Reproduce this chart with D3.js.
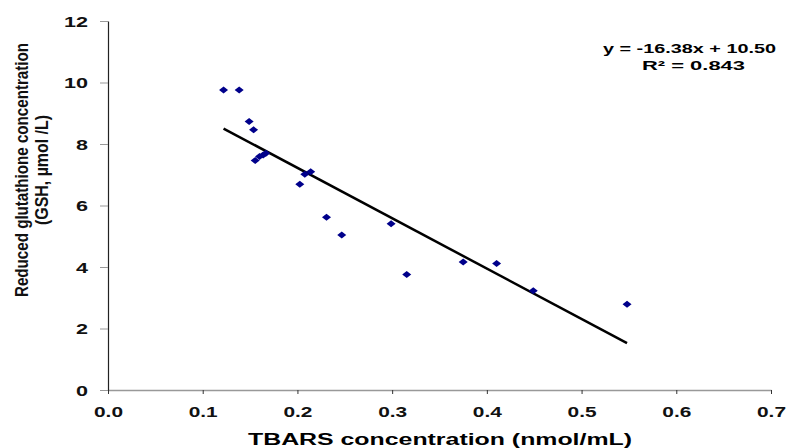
<!DOCTYPE html>
<html><head><meta charset="utf-8">
<script src="https://cdn.jsdelivr.net/npm/d3@7"></script>
<style>
body{margin:0;background:#fff;}
text{font-family:"Liberation Sans",Arial,sans-serif;}
</style></head>
<body><svg id="c" width="789" height="448"></svg>
<script>
const tbars = [0.122,0.1385,0.149,0.1537,0.1554,0.160,0.1638,0.1667,0.2025,0.2078,0.214,0.2307,0.2468,0.2989,0.3154,0.375,0.4103,0.449,0.548];
const gsh   = [9.76,9.76,8.73,8.46,7.46,7.59,7.64,7.70,6.69,7.02,7.10,5.62,5.04,5.41,3.76,4.16,4.11,3.23,2.79];
const xTicks = [0,0.1,0.2,0.3,0.4,0.5,0.6,0.7];
const yTicks = [0,2,4,6,8,10,12];
const slope = -16.38, intercept = 10.50;
const eqText = "y = -16.38x + 10.50";
const r2Text = "R\u00b2 = 0.843";

const svg = d3.select("#c");
const x = d3.scaleLinear().domain([0,0.7]).range([108,771]);
const y = d3.scaleLinear().domain([0,12]).range([390,21]);

// x axis
const xa = svg.append("g").attr("transform","translate(0,390)")
  .call(d3.axisBottom(x).tickValues(xTicks).tickFormat(d3.format(".1f")).tickSize(4).tickSizeOuter(0));
xa.select(".domain").attr("stroke","#999").attr("stroke-width",1.5);
xa.selectAll(".tick line").attr("stroke","#333");
xa.selectAll(".tick text").attr("y",27).attr("dy",null).attr("font-size",14).attr("font-weight","bold").attr("fill","#111")
  .attr("textLength",29).attr("lengthAdjust","spacingAndGlyphs");

// y axis
const ya = svg.append("g").attr("transform","translate(108,0)")
  .call(d3.axisLeft(y).tickValues(yTicks).tickSize(8).tickSizeOuter(0));
ya.select(".domain").attr("stroke","#222").attr("stroke-width",1.2);
ya.selectAll(".tick line").attr("stroke","#999");
ya.selectAll(".tick text").attr("x",-20).attr("dy","0.36em").attr("font-size",14).attr("font-weight","bold").attr("fill","#111")
  .attr("textLength",d=>String(d).length*12).attr("lengthAdjust","spacingAndGlyphs");

// regression line
const xmin = d3.min(tbars), xmax = d3.max(tbars);
svg.append("line")
  .attr("x1",x(xmin)).attr("y1",y(slope*xmin+intercept))
  .attr("x2",x(xmax)).attr("y2",y(slope*xmax+intercept))
  .attr("stroke","#000").attr("stroke-width",2.5);

// points
svg.append("g").selectAll("path").data(tbars.map((d,i)=>[d,gsh[i]])).join("path")
  .attr("d","M0,-3.5L4.5,0L0,3.5L-4.5,0Z")
  .attr("transform",d=>`translate(${x(d[0])},${y(d[1])})`)
  .attr("fill","#00008b");

// equation
svg.append("text").attr("x",603).attr("y",53)
  .attr("font-size",13).attr("font-weight","bold")
  .attr("textLength",173).attr("lengthAdjust","spacingAndGlyphs").text(eqText);
svg.append("text").attr("x",642).attr("y",70)
  .attr("font-size",13).attr("font-weight","bold")
  .attr("textLength",103).attr("lengthAdjust","spacingAndGlyphs").text(r2Text);

// x title
svg.append("text").attr("x",248).attr("y",445)
  .attr("font-size",16).attr("font-weight","bold")
  .attr("textLength",384).attr("lengthAdjust","spacingAndGlyphs").text("TBARS concentration (nmol/mL)");

// y title
const yt = svg.append("g").attr("transform","rotate(-90)");
yt.append("text").attr("x",-170).attr("y",28).attr("text-anchor","middle")
  .attr("font-size",18).attr("font-weight","bold").attr("fill","#111")
  .attr("textLength",254).attr("lengthAdjust","spacingAndGlyphs")
  .text("Reduced glutathione  concentration");
yt.append("text").attr("x",-170).attr("y",48).attr("text-anchor","middle")
  .attr("font-size",18).attr("font-weight","bold").attr("fill","#111")
  .attr("textLength",110).attr("lengthAdjust","spacingAndGlyphs")
  .text("(GSH, \u00b5mol /L)");
</script></body></html>
